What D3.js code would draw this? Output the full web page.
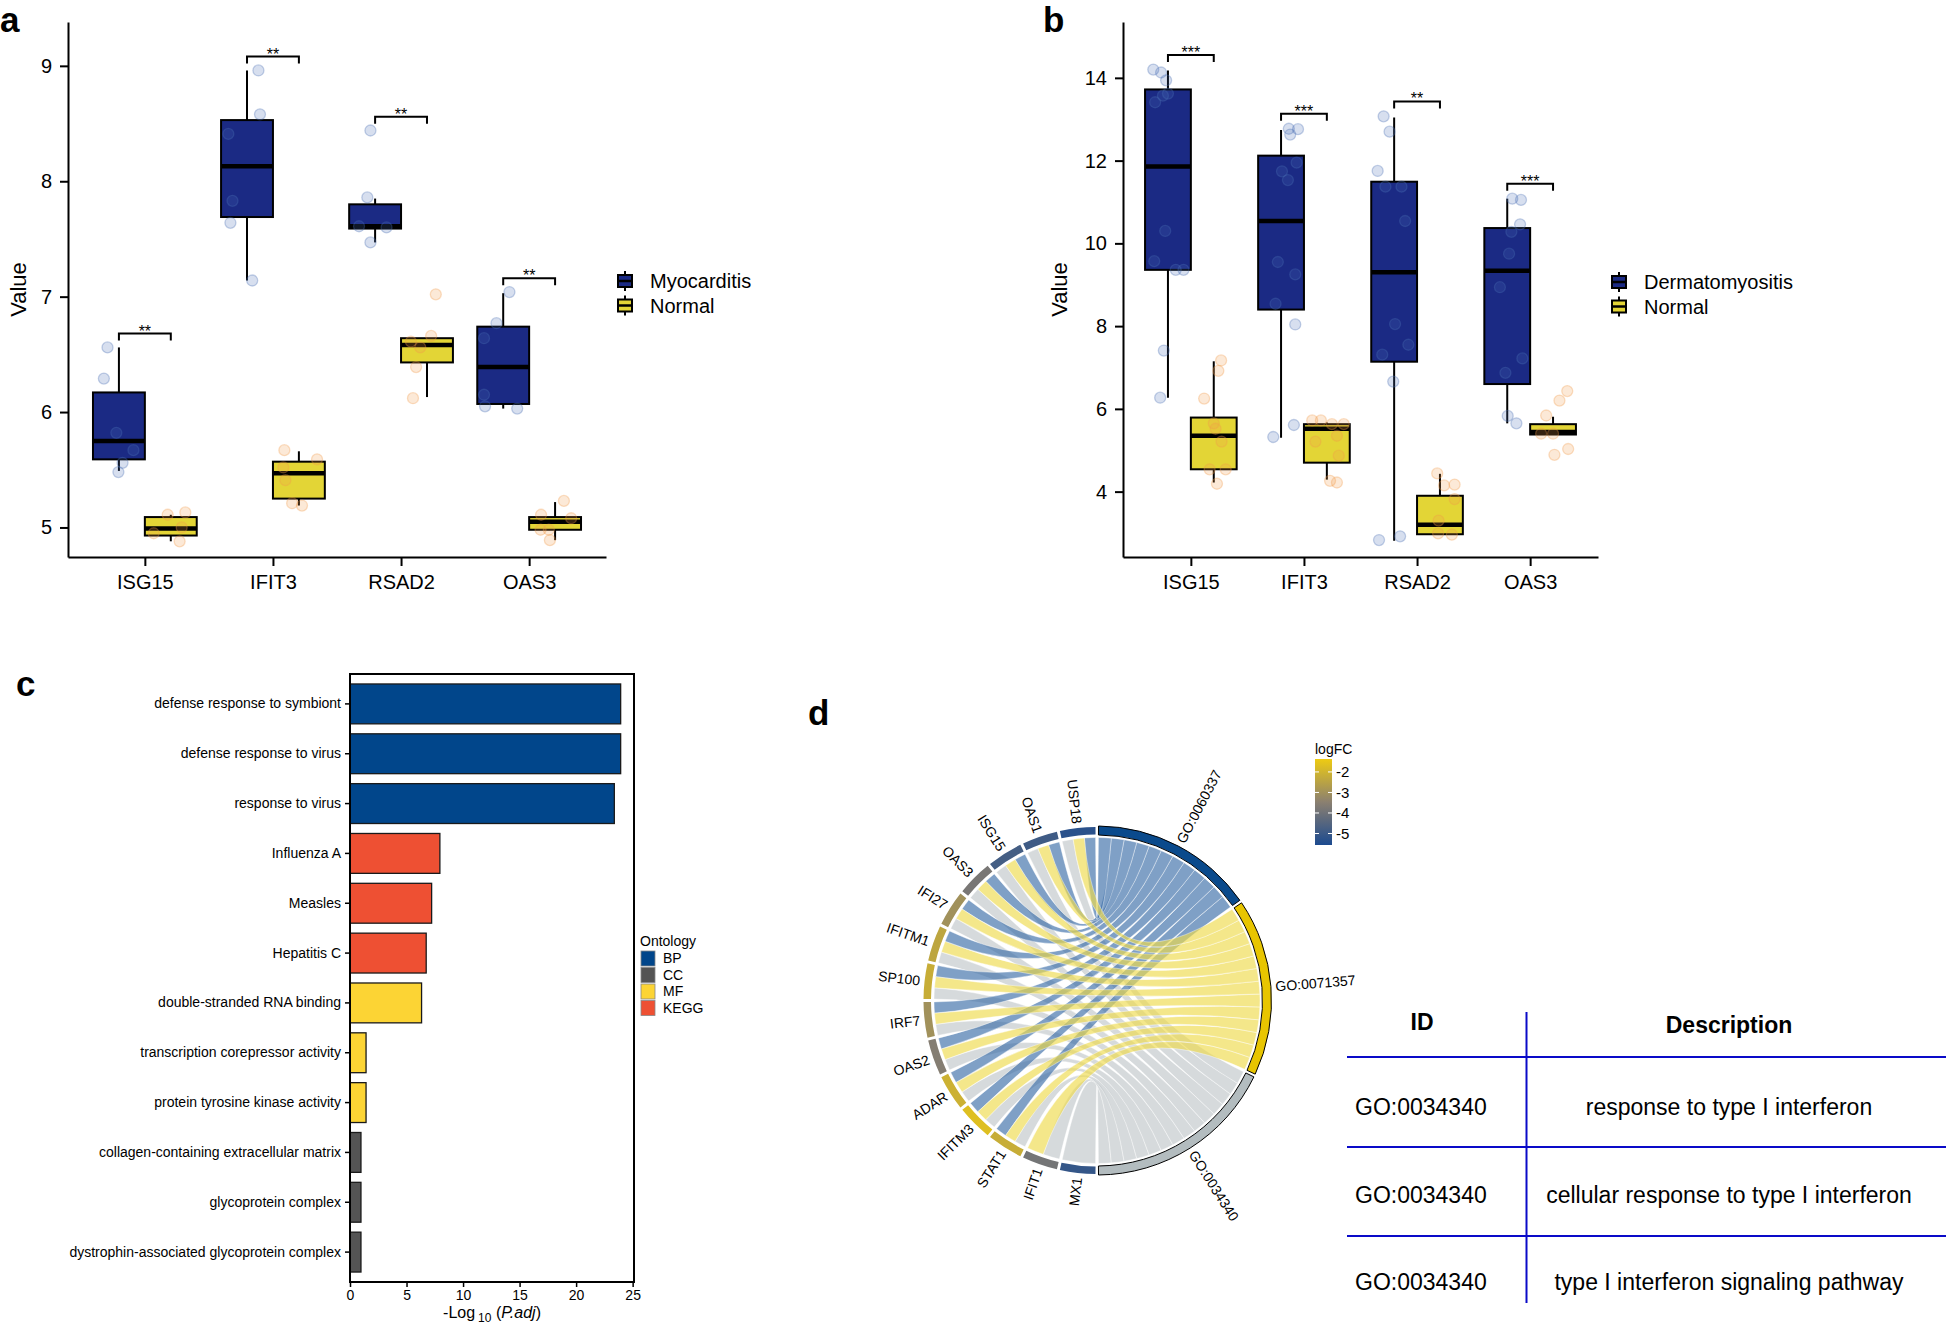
<!DOCTYPE html>
<html><head><meta charset="utf-8">
<script src="https://cdn.jsdelivr.net/npm/d3@7"></script>
<style>
body{margin:0;background:#fff;}
svg{display:block;font-family:"Liberation Sans",Arial,Helvetica,sans-serif;}
</style></head><body>
<svg id="fig" width="1946" height="1329"></svg>
<script>
// ---------------- DATA ----------------
const boxGenes = ["ISG15","IFIT3","RSAD2","OAS3"];
// [lower whisker, q1, median, q3, upper whisker]
const aStatsMyo  = [[5.49,5.59,5.75,6.17,6.56],[7.14,7.69,8.13,8.53,8.96],[7.47,7.59,7.61,7.80,7.85],[6.03,6.07,6.39,6.74,7.03]];
const aStatsNorm = [[4.88,4.93,4.99,5.09,5.11],[5.19,5.25,5.47,5.57,5.66],[6.13,6.43,6.58,6.64,6.64],[4.89,4.98,5.05,5.09,5.22]];
const aPtsMyo  = [[6.56,6.29,5.82,5.67,5.56,5.48],[8.96,8.58,8.41,7.83,7.64,7.14],[8.44,7.86,7.61,7.60,7.47],[7.04,6.77,6.64,6.15,6.05,6.03]];
const aJitMyo  = [[-0.22,-0.29,-0.05,0.28,0.07,-0.01],[0.22,0.25,-0.36,-0.28,-0.32,0.10],[-0.09,-0.15,-0.31,0.22,-0.09],[0.12,-0.13,-0.37,-0.37,-0.35,0.27]];
const aPtsNorm = [[5.11,5.13,5.00,4.95,4.88],[5.67,5.59,5.52,5.41,5.21,5.19],[7.02,6.66,6.61,6.56,6.39,6.12],[5.23,5.11,5.08,4.98,4.98,4.89]];
const aJitNorm = [[-0.06,0.28,0.21,-0.33,0.17],[-0.28,0.35,-0.30,-0.26,-0.13,0.06],[0.17,0.08,-0.31,-0.13,-0.21,-0.27],[0.17,-0.27,0.31,-0.12,-0.28,-0.10]];
const aSig  = ["**","**","**","**"];
const aSigY = [6.68, 9.08, 8.56, 7.16];
const aTicks = [5,6,7,8,9];
const aGroups = ["Myocarditis","Normal"];

const bStatsDM   = [[6.27,9.36,11.86,13.72,14.18],[5.30,8.40,10.54,12.12,12.74],[2.81,7.14,9.30,11.49,13.04],[5.65,6.60,9.34,10.37,11.08]];
const bStatsNorm = [[4.22,4.54,5.35,5.79,7.15],[4.29,4.70,5.52,5.63,5.67],[2.97,2.97,3.20,3.90,4.43],[5.38,5.38,5.44,5.63,5.81]];
const bPtsDM = [[14.20,14.13,13.94,13.62,13.57,13.41,10.30,9.57,9.36,9.36,7.41,6.27],
                [12.77,12.76,12.63,11.95,11.74,11.53,9.55,9.25,8.54,8.04,5.61,5.32],
                [13.07,12.70,11.75,11.37,11.37,10.54,8.05,7.55,7.31,6.66,2.83,2.92],
                [11.08,11.05,10.46,10.28,9.75,8.94,7.22,6.87,5.83,5.65]];
const bJitDM = [[-0.32,-0.15,-0.04,0,-0.11,-0.28,-0.06,-0.30,0.17,0.34,-0.09,-0.17],
                [0.17,0.37,0.20,0.34,0.02,0.15,-0.07,0.31,-0.12,0.31,0.28,-0.17],
                [-0.23,-0.10,-0.36,-0.19,0.16,0.24,0.02,0.31,-0.26,-0.02,-0.33,0.13],
                [0.11,0.30,0.28,0.09,0.04,-0.16,0.33,-0.04,0.01,0.20]];
const bPtsNorm = [[7.17,6.92,6.25,5.65,5.52,5.21,4.54,4.54,4.19],
                  [5.72,5.72,5.63,5.63,5.35,5.21,4.87,4.26,4.22],
                  [4.44,4.17,4.15,3.82,3.30,2.99,2.96],
                  [6.43,6.20,5.84,5.40,5.40,5.03,4.89]];
const bJitNorm = [[0.16,0.10,-0.21,0,0.04,0.17,-0.09,0.26,0.07],
                  [-0.32,-0.13,0.11,0.37,0.22,-0.25,0.26,0.07,0.22],
                  [-0.06,0.32,0.09,0.32,-0.03,-0.04,0.26],
                  [0.31,0.14,-0.15,-0.26,0,0.33,0.03]];
const bSig  = ["***","***","**","***"];
const bSigY = [14.55, 13.13, 13.43, 11.44];
const bTicks = [4,6,8,10,12,14];
const bGroups = ["Dermatomyositis","Normal"];

const cTerms = ["defense response to symbiont","defense response to virus","response to virus","Influenza A","Measles","Hepatitis C",
  "double-stranded RNA binding","transcription corepressor activity","protein tyrosine kinase activity",
  "collagen-containing extracellular matrix","glycoprotein complex","dystrophin-associated glycoprotein complex"];
const cValues = [23.94,23.94,23.38,7.95,7.22,6.74,6.33,1.42,1.42,0.97,0.97,0.97];
const cOntology = ["BP","BP","BP","KEGG","KEGG","KEGG","MF","MF","MF","CC","CC","CC"];
const cOntLevels = ["BP","CC","MF","KEGG"];
const cOntColors = ["#01468B","#545454","#FCD434","#EE5033"];
const cTicks = [0,5,10,15,20,25];

// chord: genes listed clockwise from the bottom
const chordGenes = ["MX1","IFIT1","STAT1","IFITM3","ADAR","OAS2","IRF7","SP100","IFITM1","IFI27","OAS3","ISG15","OAS1","USP18"];
const chordLogFC = [-5.1,-3.9,-2.2,-1.7,-2.1,-3.6,-3.0,-2.2,-2.4,-3.0,-3.8,-4.8,-4.9,-5.3];
const chordTerms = ["GO:0060337","GO:0071357","GO:0034340"];
const geneTerms = [["GO:0034340"],["GO:0071357","GO:0034340"],
  ["GO:0060337","GO:0071357","GO:0034340"],["GO:0060337","GO:0071357","GO:0034340"],["GO:0060337","GO:0071357","GO:0034340"],
  ["GO:0060337","GO:0071357","GO:0034340"],["GO:0060337","GO:0071357","GO:0034340"],["GO:0060337","GO:0071357","GO:0034340"],
  ["GO:0060337","GO:0071357","GO:0034340"],["GO:0060337","GO:0071357","GO:0034340"],["GO:0060337","GO:0071357","GO:0034340"],
  ["GO:0060337","GO:0071357","GO:0034340"],["GO:0060337","GO:0071357","GO:0034340"],["GO:0060337","GO:0071357","GO:0034340"]];
const termRingColors = ["#0A4A8C","#E8C500","#B3BCBF"];
const termRibbonColors = ["#3A6DA7","#EEDA4B","#C0C6C9"];
const lfcTicks = [-2,-3,-4,-5];

const tableHeader = ["ID","Description"];
const tableIds = ["GO:0034340","GO:0034340","GO:0034340"];
const tableDesc = ["response to type I interferon","cellular response to type I interferon","type I interferon signaling pathway"];

// ---------------- DRAW ----------------
const svg = d3.select("#fig");
const boxBlue = "#1B2A84", boxYellow = "#E3D536";

function letter(t, x, y){ svg.append("text").attr("x",x).attr("y",y).attr("font-size",35).attr("font-weight","bold").text(t); }
letter("a",0,32); letter("b",1043,32); letter("c",16,696); letter("d",808,725);

function boxPanel(o){
  const g = svg.append("g");
  const x = d3.scalePoint().domain(boxGenes).range([o.x0,o.x1]).padding(0.6);
  const y = d3.scaleLinear().domain(o.yDomain).range([o.yBottom,o.yTop]);
  const bw = x.step()*0.405;
  const groups = [
    {stats:o.s1, pts:o.p1, jit:o.j1, fill:boxBlue, dir:-1, pf:"#4A6FB5"},
    {stats:o.s2, pts:o.p2, jit:o.j2, fill:boxYellow, dir:1, pf:"#F39A4A"}];
  groups.forEach(gr=>{
    boxGenes.forEach((gene,i)=>{
      const s = gr.stats[i], cx = x(gene)+gr.dir*bw/2;
      g.append("line").attr("x1",cx).attr("x2",cx).attr("y1",y(s[0])).attr("y2",y(s[4])).attr("stroke","#000").attr("stroke-width",2);
      g.append("rect").attr("x",cx-bw/2).attr("y",y(s[3])).attr("width",bw).attr("height",Math.max(1,y(s[1])-y(s[3])))
        .attr("fill",gr.fill).attr("stroke","#000").attr("stroke-width",2);
      g.append("line").attr("x1",cx-bw/2).attr("x2",cx+bw/2).attr("y1",y(s[2])).attr("y2",y(s[2])).attr("stroke","#000").attr("stroke-width",4.5);
    });
  });
  groups.forEach(gr=>{
    boxGenes.forEach((gene,i)=>{
      const cx = x(gene)+gr.dir*bw/2;
      gr.pts[i].forEach((v,k)=>{
        g.append("circle").attr("cx",cx+gr.jit[i][k]*bw).attr("cy",y(v)).attr("r",5.5)
          .attr("fill",gr.pf).attr("fill-opacity",0.22).attr("stroke",gr.pf).attr("stroke-opacity",0.32).attr("stroke-width",1.3);
      });
    });
  });
  boxGenes.forEach((gene,i)=>{
    const xl = x(gene)-bw/2, xr = x(gene)+bw/2, yy = y(o.sigY[i]);
    g.append("path").attr("d",`M${xl},${yy+7}V${yy}H${xr}V${yy+7}`).attr("fill","none").attr("stroke","#000").attr("stroke-width",2);
    g.append("text").attr("x",(xl+xr)/2).attr("y",yy+3).attr("text-anchor","middle").attr("font-size",16).text(o.sig[i]);
  });
  const ya = g.append("g").attr("transform",`translate(${o.x0},0)`)
    .call(d3.axisLeft(y).tickValues(o.ticks).tickFormat(d3.format("d")).tickSize(8).tickPadding(8).tickSizeOuter(0));
  const xa = g.append("g").attr("transform",`translate(0,${o.yBottom})`)
    .call(d3.axisBottom(x).tickSize(9).tickPadding(9).tickSizeOuter(0));
  [ya,xa].forEach(a=>{
    a.select(".domain").attr("stroke-width",2).attr("stroke","#000");
    a.selectAll(".tick line").attr("stroke-width",2).attr("stroke","#000");
    a.selectAll(".tick text").attr("font-size",20).attr("fill","#000").attr("font-family","Liberation Sans, Arial, sans-serif");
  });
  g.append("text").attr("transform",`translate(${o.x0-o.titleOff},${(o.yTop+o.yBottom)/2}) rotate(-90)`)
    .attr("text-anchor","middle").attr("font-size",22).text("Value");
  const lg = g.append("g");
  o.groups.forEach((name,i)=>{
    const cy = o.legY + i*24.5, kx = o.legX;
    lg.append("line").attr("x1",kx+7).attr("x2",kx+7).attr("y1",cy-10).attr("y2",cy+10).attr("stroke","#000").attr("stroke-width",2);
    lg.append("rect").attr("x",kx).attr("y",cy-6).attr("width",14).attr("height",12).attr("fill",i===0?boxBlue:boxYellow).attr("stroke","#000").attr("stroke-width",2);
    lg.append("line").attr("x1",kx).attr("x2",kx+14).attr("y1",cy).attr("y2",cy).attr("stroke","#000").attr("stroke-width",2.5);
    lg.append("text").attr("x",kx+32).attr("y",cy).attr("dy","0.35em").attr("font-size",20).text(name);
  });
}

boxPanel({x0:68,x1:606,yTop:22,yBottom:557,yDomain:[4.744,9.38],ticks:aTicks,titleOff:42,
  s1:aStatsMyo,s2:aStatsNorm,p1:aPtsMyo,p2:aPtsNorm,j1:aJitMyo,j2:aJitNorm,sig:aSig,sigY:aSigY,
  groups:aGroups,legX:618,legY:281});
boxPanel({x0:1123,x1:1598,yTop:22,yBottom:557,yDomain:[2.42,15.35],ticks:bTicks,titleOff:56,
  s1:bStatsDM,s2:bStatsNorm,p1:bPtsDM,p2:bPtsNorm,j1:bJitDM,j2:bJitNorm,sig:bSig,sigY:bSigY,
  groups:bGroups,legX:1612,legY:282});

// ---------------- panel c ----------------
(function(){
  const g = svg.append("g");
  const L=350,R=634,T=674,B=1282;
  const xc = d3.scaleLinear().domain([0,25.12]).range([L,R]);
  const yc = d3.scaleBand().domain(cTerms).range([T,B]).paddingInner(0.2).paddingOuter(0.2);
  const col = d3.scaleOrdinal().domain(cOntLevels).range(cOntColors);
  g.selectAll("rect.bar").data(cTerms).enter().append("rect").attr("class","bar")
    .attr("x",xc(0)).attr("y",d=>yc(d)).attr("height",yc.bandwidth())
    .attr("width",(d,i)=>xc(cValues[i])-xc(0))
    .attr("fill",(d,i)=>col(cOntology[i])).attr("stroke","#1a1a1a").attr("stroke-width",1.3);
  g.append("rect").attr("x",L).attr("y",T).attr("width",R-L).attr("height",B-T).attr("fill","none").attr("stroke","#000").attr("stroke-width",2);
  const ya = g.append("g").attr("transform",`translate(${L},0)`).call(d3.axisLeft(yc).tickSize(5).tickPadding(4));
  ya.select(".domain").remove();
  const xa = g.append("g").attr("transform",`translate(0,${B})`).call(d3.axisBottom(xc).tickValues(cTicks).tickSize(5).tickPadding(3));
  xa.select(".domain").remove();
  [ya,xa].forEach(a=>{
    a.selectAll(".tick line").attr("stroke","#000").attr("stroke-width",1.5);
    a.selectAll(".tick text").attr("font-size",14).attr("fill","#000").attr("font-family","Liberation Sans, Arial, sans-serif");
  });
  const t = g.append("text").attr("x",(L+R)/2).attr("y",1318).attr("text-anchor","middle").attr("font-size",16);
  t.append("tspan").text("-Log");
  t.append("tspan").attr("font-size",12).attr("dy",4).attr("dx",3).text("10");
  t.append("tspan").attr("dy",-4).text(" (");
  t.append("tspan").attr("font-style","italic").text("P.adj");
  t.append("tspan").text(")");
  g.append("text").attr("x",640).attr("y",946).attr("font-size",14).text("Ontology");
  cOntLevels.forEach((k,i)=>{
    const yy = 951 + i*16.5;
    g.append("rect").attr("x",641).attr("y",yy).attr("width",14).attr("height",15).attr("fill",cOntColors[i]).attr("stroke","#888").attr("stroke-width",0.8);
    g.append("text").attr("x",663).attr("y",yy+7.5).attr("dy","0.35em").attr("font-size",14).text(k);
  });
})();

// ---------------- panel d: chord ----------------
(function(){
  const cx = 1097, cy = 1000.5;
  const g = svg.append("g").attr("transform",`translate(${cx},${cy})`);
  const gap = Math.PI/180;
  const nG = chordGenes.length;
  const geneW = (Math.PI - nG*gap)/nG;
  const geneAngle = d3.scaleLinear().domain([0,nG]).range([Math.PI+gap/2, 2*Math.PI+gap/2]);
  const termCount = chordTerms.map(t=>geneTerms.filter(gt=>gt.includes(t)).length);
  const totalLinks = d3.sum(termCount);
  const unit = (Math.PI - chordTerms.length*gap)/totalLinks;
  const termStart = []; let acc = gap/2;
  termCount.forEach(c=>{ termStart.push(acc); acc += c*unit + gap; });
  const lfcColor = d3.scaleLinear().domain([-5.56,-3.47,-1.37]).range(["#1C4A8F","#8B8070","#EECB12"]);

  const links = [];
  chordGenes.forEach((gene,i)=>{
    const gs = geneAngle(i);
    const lt = chordTerms.filter(t=>geneTerms[i].includes(t)).reverse();
    const lw = geneW/lt.length;
    lt.forEach((t,k)=>{ links.push({gene:i, term:chordTerms.indexOf(t), s0:gs+k*lw, s1:gs+(k+1)*lw}); });
  });
  chordTerms.forEach((t,j)=>{
    const members = links.filter(l=>l.term===j).sort((a,b)=>b.gene-a.gene);
    members.forEach((l,m)=>{ l.t0 = termStart[j]+m*unit; l.t1 = termStart[j]+(m+1)*unit; });
  });
  const ribbon = d3.ribbon().radius(163);
  [2,0,1].forEach(j=>{
    links.filter(l=>l.term===j).forEach(l=>{
      g.append("path").attr("d",ribbon({source:{startAngle:l.s0,endAngle:l.s1},target:{startAngle:l.t0,endAngle:l.t1}}))
        .attr("fill",termRibbonColors[j]).attr("fill-opacity",0.65).attr("stroke","#fff").attr("stroke-width",0.45).attr("stroke-opacity",0.9);
    });
  });
  const geneArc = d3.arc().innerRadius(166).outerRadius(173.5);
  chordGenes.forEach((gene,i)=>{
    const a0 = geneAngle(i), a1 = a0+geneW;
    g.append("path").attr("d",geneArc({startAngle:a0,endAngle:a1})).attr("fill",lfcColor(chordLogFC[i]));
    const m = (a0+a1)/2, r = 178;
    g.append("text").attr("transform",`translate(${r*Math.sin(m)},${-r*Math.cos(m)}) rotate(${m*180/Math.PI-270})`)
      .attr("text-anchor","end").attr("dominant-baseline","central").attr("font-size",14).text(gene);
  });
  const termArc = d3.arc().innerRadius(165.5).outerRadius(174.5);
  chordTerms.forEach((t,j)=>{
    const a0 = termStart[j], a1 = a0+termCount[j]*unit;
    g.append("path").attr("d",termArc({startAngle:a0,endAngle:a1})).attr("fill",termRingColors[j]).attr("stroke","#000").attr("stroke-width",1);
    const m = (a0+a1)/2, r = 179;
    g.append("text").attr("transform",`translate(${r*Math.sin(m)},${-r*Math.cos(m)}) rotate(${m*180/Math.PI-90})`)
      .attr("text-anchor","start").attr("dominant-baseline","central").attr("font-size",14).text(t);
  });
  const defs = svg.append("defs");
  const grad = defs.append("linearGradient").attr("id","lfcGrad").attr("x1",0).attr("x2",0).attr("y1",1).attr("y2",0);
  d3.range(0,1.0001,0.1).forEach(f=>{
    grad.append("stop").attr("offset",f).attr("stop-color",lfcColor(-5.56+f*(5.56-1.37)));
  });
  const ly = d3.scaleLinear().domain([-5.56,-1.37]).range([845,759]);
  svg.append("text").attr("x",1315).attr("y",754).attr("font-size",14).text("logFC");
  svg.append("rect").attr("x",1315).attr("y",759).attr("width",17).attr("height",86).attr("fill","url(#lfcGrad)");
  lfcTicks.forEach(v=>{
    svg.append("line").attr("x1",1315).attr("x2",1319).attr("y1",ly(v)).attr("y2",ly(v)).attr("stroke","#fff").attr("stroke-width",1);
    svg.append("line").attr("x1",1328).attr("x2",1332).attr("y1",ly(v)).attr("y2",ly(v)).attr("stroke","#fff").attr("stroke-width",1);
    svg.append("text").attr("x",1336).attr("y",ly(v)).attr("dy","0.35em").attr("font-size",15).text(v);
  });
})();

// ---------------- table ----------------
(function(){
  const g = svg.append("g");
  const lineCol = "#0A0AC8";
  const rowY = d3.scalePoint().domain(d3.range(tableIds.length)).range([1107,1282]);
  [1057,1147,1236].forEach(yv=>{
    g.append("line").attr("x1",1347).attr("x2",1946).attr("y1",yv).attr("y2",yv).attr("stroke",lineCol).attr("stroke-width",2);
  });
  g.append("line").attr("x1",1526.5).attr("x2",1526.5).attr("y1",1012).attr("y2",1303).attr("stroke",lineCol).attr("stroke-width",2);
  g.append("text").attr("x",1422).attr("y",1022).attr("dy","0.35em").attr("text-anchor","middle").attr("font-size",23).attr("font-weight","bold").text(tableHeader[0]);
  g.append("text").attr("x",1729).attr("y",1025).attr("dy","0.35em").attr("text-anchor","middle").attr("font-size",23).attr("font-weight","bold").text(tableHeader[1]);
  tableIds.forEach((id,i)=>{
    g.append("text").attr("x",1355).attr("y",rowY(i)).attr("dy","0.35em").attr("font-size",23).text(id);
    g.append("text").attr("x",1729).attr("y",rowY(i)).attr("dy","0.35em").attr("text-anchor","middle").attr("font-size",23).text(tableDesc[i]);
  });
})();
</script>
</body></html>
